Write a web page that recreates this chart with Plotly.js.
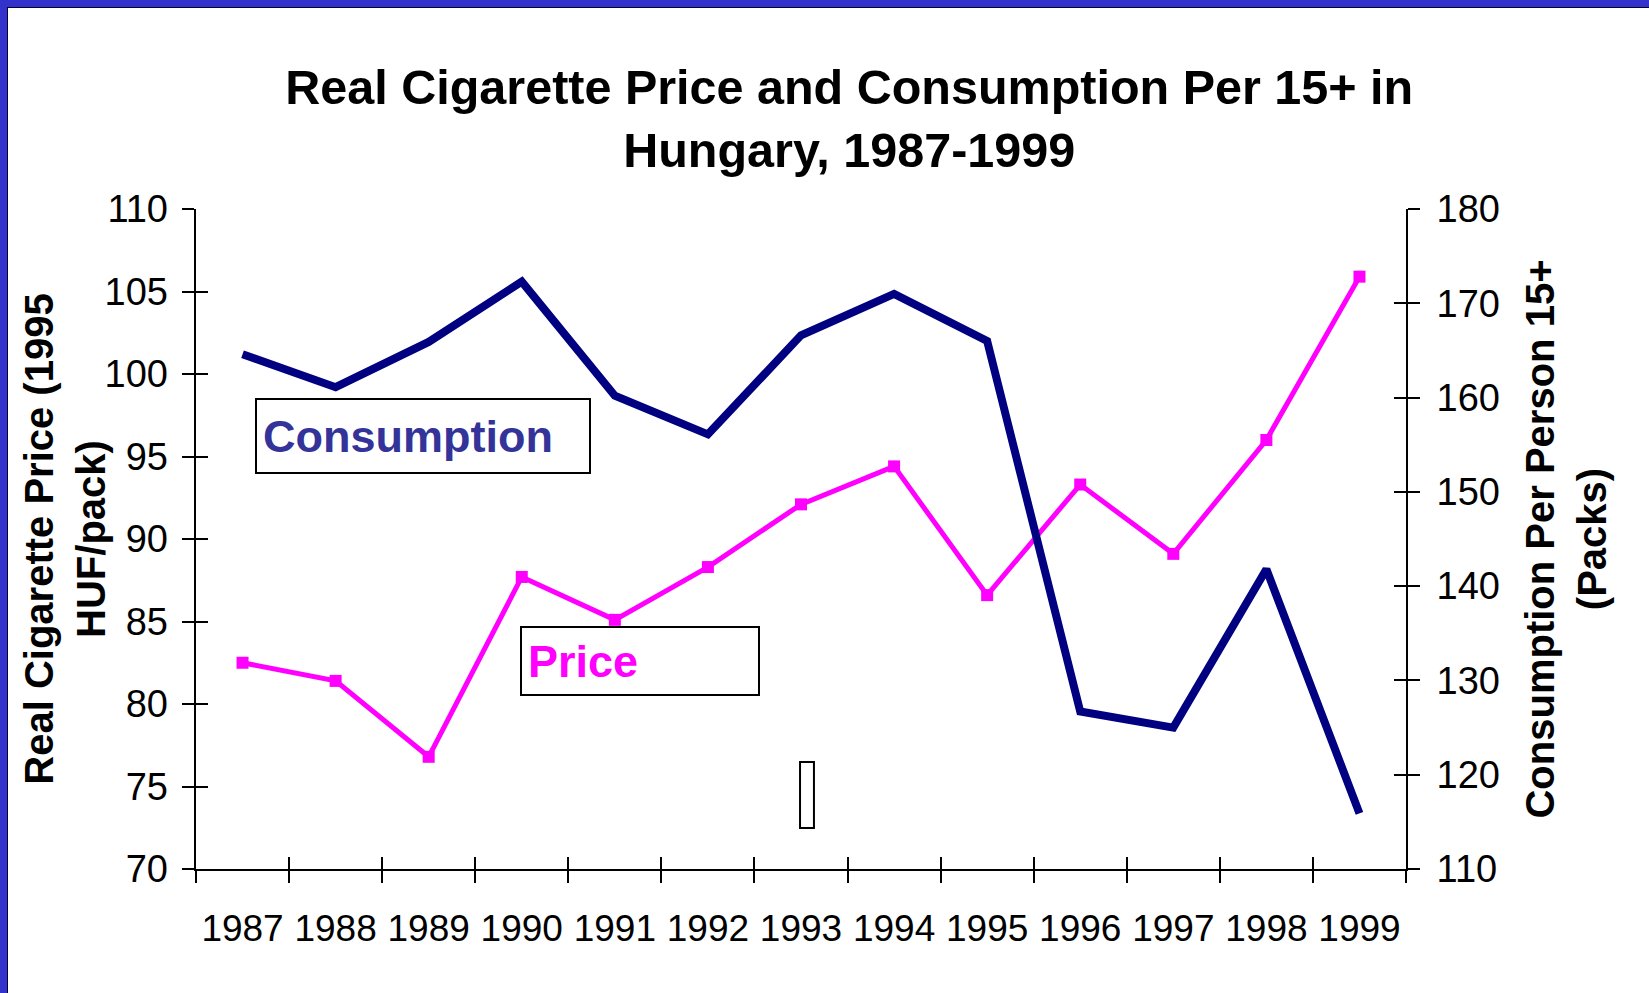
<!DOCTYPE html>
<html>
<head>
<meta charset="utf-8">
<script src="https://cdn.plot.ly/plotly-3.0.1.min.js"></script>
<style>
  html, body { margin: 0; padding: 0; background: #ffffff; }
  #wrap { position: relative; width: 1649px; height: 993px; overflow: hidden; }
  #chart { position: absolute; left: 0; top: 0; width: 1649px; height: 993px; }
  #frame { position: absolute; left: 0; top: 0; width: 1649px; height: 993px; box-sizing: border-box;
           border-top: 7px solid #3333cc; border-left: 7px solid #3333cc; pointer-events: none; }
  #frame2 { position: absolute; left: 7px; top: 7px; width: 1642px; height: 986px; box-sizing: border-box;
            border-top: 1px solid #000033; border-left: 1px solid #000033; pointer-events: none; }
</style>
</head>
<body>
<div id="wrap">
  <div id="chart"></div>
  <div id="frame"></div>
  <div id="frame2"></div>
</div>
<script>
// ---- data ----
const years = ['1987','1988','1989','1990','1991','1992','1993','1994','1995','1996','1997','1998','1999'];
const price = [82.5, 81.4, 76.8, 87.7, 85.1, 88.3, 92.1, 94.4, 86.6, 93.3, 89.1, 96.0, 105.9];
const consumption = [164.6, 161.1, 165.9, 172.3, 160.2, 156.1, 166.6, 171.0, 166.0, 126.7, 125.0, 141.8, 115.9];
const priceTicks = [70, 75, 80, 85, 90, 95, 100, 105, 110];
const consTicks = [110, 120, 130, 140, 150, 160, 170, 180];

const FONT = 'Liberation Sans, Arial, Helvetica, sans-serif';
const catRange = [-0.5, years.length - 0.5];

const traces = [
  {
    name: 'Price', x: years, y: price, xaxis: 'x', yaxis: 'y',
    type: 'scatter', mode: 'lines+markers',
    line: { color: '#ff00ff', width: 5 },
    marker: { symbol: 'square', size: 12, color: '#ff00ff' },
    showlegend: false
  },
  {
    name: 'Consumption', x: years, y: consumption, xaxis: 'x', yaxis: 'y2',
    type: 'scatter', mode: 'lines',
    line: { color: '#000080', width: 8 },
    showlegend: false
  },
  // invisible helpers so the overlay axes (inner half of the cross ticks) get drawn
  { x: years, y: price, xaxis: 'x2', yaxis: 'y3', type: 'scatter', mode: 'lines',
    line: { width: 0 }, opacity: 0, hoverinfo: 'skip', showlegend: false },
  { x: years, y: consumption, xaxis: 'x2', yaxis: 'y4', type: 'scatter', mode: 'lines',
    line: { width: 0 }, opacity: 0, hoverinfo: 'skip', showlegend: false }
];

const tickFont = { family: FONT, size: 38, color: '#000000' };
const xTickFont = { family: FONT, size: 37, color: '#000000' };
const axTitleFont = { family: FONT, size: 40, color: '#000000', weight: 700 };

const layout = {
  width: 1649, height: 993,
  paper_bgcolor: '#ffffff', plot_bgcolor: '#ffffff',
  margin: { l: 196, r: 243, t: 209, b: 124, pad: 0 },
  showlegend: false,
  title: {
    text: 'Real Cigarette Price and Consumption Per 15+ in<br>Hungary, 1987-1999',
    font: { family: FONT, size: 48.5, color: '#000000', weight: 700 },
    xref: 'container', x: 0.515, xanchor: 'center',
    yref: 'container', y: 0.895, yanchor: 'top'
  },
  xaxis: {
    type: 'category', categoryorder: 'array', categoryarray: years,
    range: catRange, fixedrange: true,
    showline: true, linecolor: '#000000', linewidth: 2, mirror: false,
    ticks: 'outside', tickson: 'boundaries', ticklen: 12, tickwidth: 2, tickcolor: '#000000',
    tickfont: xTickFont, tickangle: 0, ticklabelstandoff: 26,
    showgrid: false, zeroline: false
  },
  xaxis2: {
    type: 'category', categoryorder: 'array', categoryarray: years,
    range: catRange, overlaying: 'x', anchor: 'y', side: 'bottom',
    ticks: 'inside', tickson: 'boundaries', ticklen: 12, tickwidth: 2, tickcolor: '#000000',
    showticklabels: false, showline: false, showgrid: false, zeroline: false
  },
  // left axis: outer ticks + title; its tick labels are drawn by the overlay axis y3
  yaxis: {
    range: [70, 110], tickvals: priceTicks, fixedrange: true,
    showline: true, linecolor: '#000000', linewidth: 2,
    ticks: 'outside', ticklen: 12, tickwidth: 2, tickcolor: '#000000',
    showticklabels: false,
    showgrid: false, zeroline: false,
    title: { text: 'Real Cigarette Price (1995<br>HUF/pack)', font: axTitleFont, standoff: 64 }
  },
  yaxis2: {
    range: [110, 180], tickvals: consTicks, overlaying: 'y', side: 'right', anchor: 'x',
    showline: true, linecolor: '#000000', linewidth: 2,
    ticks: 'outside', ticklen: 12, tickwidth: 2, tickcolor: '#000000',
    tickfont: tickFont, ticklabelstandoff: 9,
    showgrid: false, zeroline: false,
    title: { text: 'Consumption Per Person 15+<br>(Packs)', font: axTitleFont, standoff: 27 }
  },
  yaxis3: {
    range: [70, 110], tickvals: priceTicks, overlaying: 'y', side: 'left', anchor: 'x',
    ticks: 'inside', ticklen: 12, tickwidth: 2, tickcolor: '#000000',
    showticklabels: true, tickfont: tickFont, ticklabelstandoff: 27,
    showline: false, showgrid: false, zeroline: false
  },
  yaxis4: {
    range: [110, 180], tickvals: consTicks, overlaying: 'y', side: 'right', anchor: 'x',
    ticks: 'inside', ticklen: 12, tickwidth: 2, tickcolor: '#000000',
    showticklabels: false, showline: false, showgrid: false, zeroline: false
  },
  annotations: [
    {
      text: 'Consumption', xref: 'paper', yref: 'paper',
      x: 0.049, y: 0.714, xanchor: 'left', yanchor: 'top',
      showarrow: false, align: 'left', valign: 'middle',
      width: 320, height: 60, borderpad: 6, borderwidth: 2, bordercolor: '#000000',
      bgcolor: 'rgba(255,255,255,0)',
      font: { family: FONT, size: 45, color: '#333399', weight: 700 }
    },
    {
      text: 'Price', xref: 'paper', yref: 'paper',
      x: 0.2678, y: 0.368, xanchor: 'left', yanchor: 'top',
      showarrow: false, align: 'left', valign: 'middle',
      width: 224, height: 54, borderpad: 6, borderwidth: 2, bordercolor: '#000000',
      bgcolor: 'rgba(255,255,255,0)',
      font: { family: FONT, size: 45, color: '#ff00ff', weight: 700 }
    }
  ],
  shapes: [
    { type: 'rect', xref: 'paper', yref: 'paper', x0: 0.4992, x1: 0.5107, y0: 0.0621, y1: 0.1621,
      line: { color: '#000000', width: 2 }, fillcolor: '#ffffff', layer: 'above' }
  ]
};

Plotly.newPlot('chart', traces, layout, { displayModeBar: false, staticPlot: true });
</script>
</body>
</html>
